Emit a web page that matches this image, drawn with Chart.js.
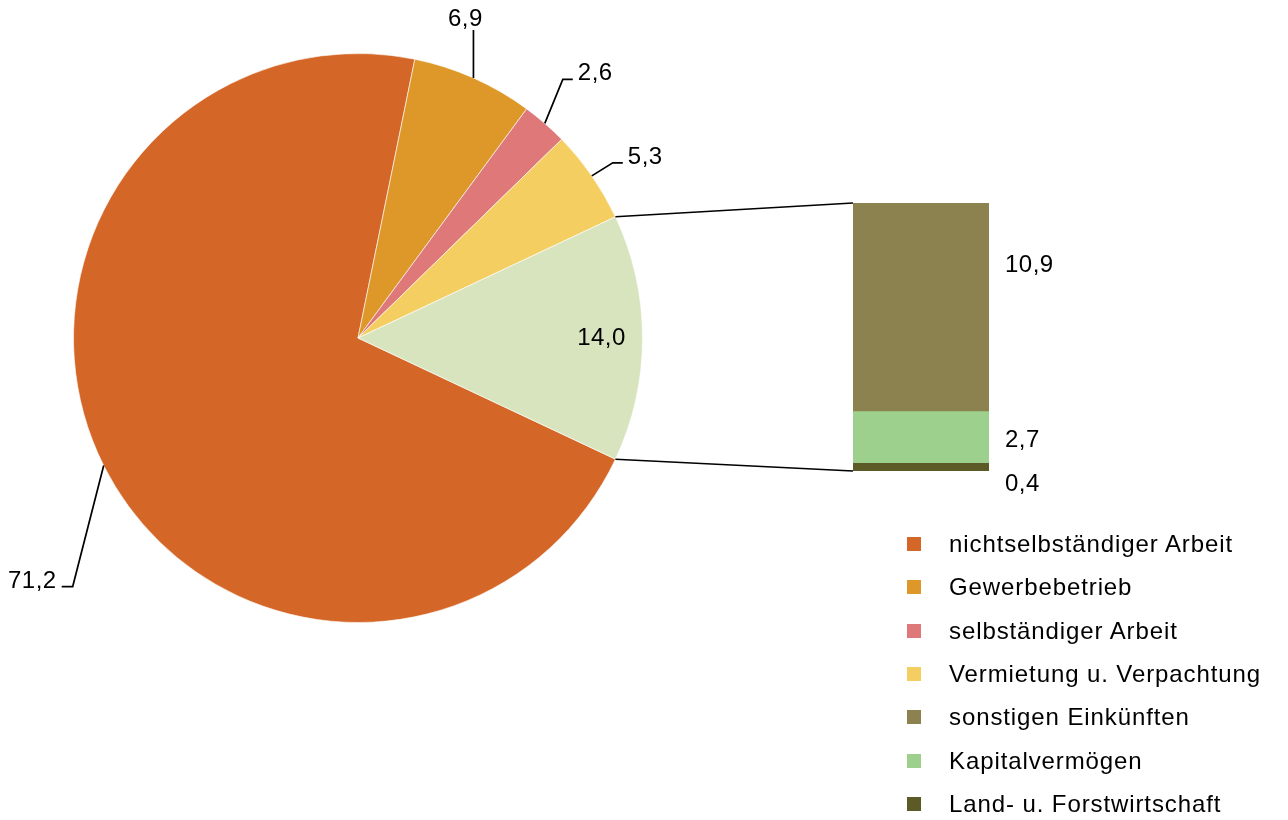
<!DOCTYPE html>
<html lang="de">
<head>
<meta charset="utf-8">
<title>Einkünfte</title>
<script src="https://cdn.jsdelivr.net/npm/chart.js@4/dist/chart.umd.min.js"></script>
<style>
  body { margin: 0; background: #fff; }
  #wrap { position: relative; width: 1288px; height: 820px; overflow: hidden; font-family: "Liberation Sans", Arial, sans-serif; }
  #pie { position: absolute; left: 0; top: 0; }
  #bar { position: absolute; left: 840px; top: 190px; }
  .leg { position: absolute; left: 907px; height: 30px; display: flex; align-items: center; font-size: 24px; letter-spacing: 0.9px; color: #000; white-space: nowrap; }
  .leg span.box { width: 14px; height: 14px; margin-right: 28px; flex: none; }
</style>
</head>
<body>
<div id="wrap">
  <canvas id="pie" width="1288" height="820"></canvas>
  <canvas id="bar" width="240" height="310"></canvas>
</div>
<script>
// data: pie part
const pieLabels = ['nichtselbständiger Arbeit', 'Gewerbebetrieb', 'selbständiger Arbeit', 'Vermietung u. Verpachtung', 'Sonstige'];
const pieValues = [71.2, 6.9, 2.6, 5.3, 14.0];
// data: bar part (breakdown of "Sonstige"), top to bottom
const barLabels = ['sonstigen Einkünften', 'Kapitalvermögen', 'Land- u. Forstwirtschaft'];
const barValues = [10.9, 2.7, 0.4];

// colours
const pieColors = ['#D46727', '#DE9729', '#DE7879', '#F5CE62', '#D8E4BE'];
const barColors = ['#8B824F', '#9CD08C', '#5C5A27'];

const FONT = '24px "Liberation Sans", Arial, sans-serif';
const fmt = v => v.toFixed(1).replace('.', ',');

// leader line layout for pie labels (elbow offset from slice edge, then short horizontal run)
const leaders = [
  { dx: -31, dy: 121, run: -11, align: 'right' },
  { dx: 0, dy: -48, run: 0, align: 'center' },
  { dx: 18, dy: -44, run: 10, align: 'left' },
  { dx: 21, dy: -13, run: 10, align: 'left' },
  null // inside label
];
// bar label vertical shift relative to segment centre
const barLabelShift = [-42, 3, 17];

// ---- bar (stacked column) ----
const barOffset = { x: 840, y: 190 };
const barLabelPlugin = {
  id: 'barLabels',
  afterDatasetsDraw(chart) {
    const ctx = chart.ctx;
    ctx.save();
    ctx.font = FONT;
    ctx.letterSpacing = '0.5px';
    ctx.fillStyle = '#000';
    ctx.textBaseline = 'middle';
    chart.data.datasets.forEach((ds, di) => {
      const el = chart.getDatasetMeta(di).data[0];
      const idx = barLabels.indexOf(ds.label);
      const yc = (el.y + el.base) / 2 + barLabelShift[idx];
      ctx.fillText(fmt(ds.data[0]), chart.chartArea.right + 16, yc);
    });
    ctx.restore();
  }
};

const barChart = new Chart(document.getElementById('bar'), {
  type: 'bar',
  data: {
    labels: [''],
    datasets: barLabels.map((l, i) => ({
      label: l,
      data: [barValues[i]],
      backgroundColor: barColors[i],
      borderWidth: 0,
      barPercentage: 1,
      categoryPercentage: 1
    })).reverse()
  },
  options: {
    responsive: false,
    animation: false,
    layout: { padding: { left: 13, right: 91, top: 13, bottom: 29 } },
    scales: {
      x: { stacked: true, display: false },
      y: { stacked: true, display: false, min: 0, max: barValues.reduce((a, b) => a + b, 0) }
    },
    plugins: { legend: { display: false }, tooltip: { enabled: false } }
  },
  plugins: [barLabelPlugin]
});

// ---- pie ----
const pieLabelPlugin = {
  id: 'pieLabels',
  afterDatasetsDraw(chart) {
    const ctx = chart.ctx;
    const arcs = chart.getDatasetMeta(0).data;
    ctx.save();
    ctx.font = FONT;
    ctx.letterSpacing = '0.5px';
    ctx.fillStyle = '#000';
    ctx.strokeStyle = '#000';
    ctx.lineWidth = 1.7;
    arcs.forEach((a, i) => {
      const p = a.getProps(['x', 'y', 'startAngle', 'endAngle', 'outerRadius'], true);
      const mid = (p.startAngle + p.endAngle) / 2;
      const txt = fmt(pieValues[i]);
      const L = leaders[i];
      if (!L) {
        ctx.textAlign = 'center';
        ctx.textBaseline = 'middle';
        const r = p.outerRadius * 0.856;
        ctx.fillText(txt, p.x + r * Math.cos(mid), p.y + r * Math.sin(mid));
        return;
      }
      const ex = p.x + p.outerRadius * Math.cos(mid);
      const ey = p.y + p.outerRadius * Math.sin(mid);
      const bx = ex + L.dx, by = ey + L.dy;
      const hx = bx + L.run;
      ctx.beginPath();
      ctx.moveTo(ex, ey);
      ctx.lineTo(bx, by);
      ctx.lineTo(hx, by);
      ctx.stroke();
      ctx.textBaseline = 'alphabetic';
      if (L.align === 'center') {
        ctx.textAlign = 'center';
        ctx.fillText(txt, hx - 8, by - 4);
      } else if (L.align === 'left') {
        ctx.textAlign = 'left';
        ctx.fillText(txt, hx + 5, by + 1);
      } else {
        ctx.textAlign = 'right';
        ctx.fillText(txt, hx - 5, by + 1);
      }
    });

    // connector lines from the "Sonstige" slice to the bar
    ctx.lineWidth = 1.5;
    const last = arcs[arcs.length - 1].getProps(['x', 'y', 'startAngle', 'endAngle', 'outerRadius'], true);
    const ys = barChart.scales.y;
    const barLeft = barOffset.x + barChart.chartArea.left;
    const barTop = barOffset.y + ys.getPixelForValue(ys.max);
    const barBottom = barOffset.y + ys.getPixelForValue(0);
    ctx.beginPath();
    ctx.moveTo(last.x + last.outerRadius * Math.cos(last.startAngle), last.y + last.outerRadius * Math.sin(last.startAngle));
    ctx.lineTo(barLeft, barTop);
    ctx.moveTo(last.x + last.outerRadius * Math.cos(last.endAngle), last.y + last.outerRadius * Math.sin(last.endAngle));
    ctx.lineTo(barLeft, barBottom);
    ctx.stroke();
    ctx.restore();
  }
};

const total = pieValues.reduce((a, b) => a + b, 0);
const otherShare = pieValues[pieValues.length - 1] / total;

new Chart(document.getElementById('pie'), {
  type: 'pie',
  data: {
    labels: pieLabels,
    datasets: [{
      data: pieValues,
      backgroundColor: pieColors,
      borderColor: 'rgba(255,255,255,0.6)',
      borderWidth: 1
    }]
  },
  options: {
    responsive: false,
    animation: false,
    // start the first slice so that the last one ("Sonstige") sits centred on the right
    rotation: 90 + otherShare * 180,
    layout: { padding: { left: 73, top: 53, right: 645, bottom: 197 } },
    plugins: { legend: { display: false }, tooltip: { enabled: false } }
  },
  plugins: [pieLabelPlugin]
});

// ---- legend ----
const legendItems = pieLabels.slice(0, 4).map((l, i) => [l, pieColors[i]])
  .concat(barLabels.map((l, i) => [l, barColors[i]]));
const wrap = document.getElementById('wrap');
legendItems.forEach(([label, color], i) => {
  const d = document.createElement('div');
  d.className = 'leg';
  d.style.top = (544 + i * 43.3 - 15) + 'px';
  d.innerHTML = '<span class="box" style="background:' + color + '"></span>' + label;
  wrap.appendChild(d);
});
</script>
</body>
</html>
